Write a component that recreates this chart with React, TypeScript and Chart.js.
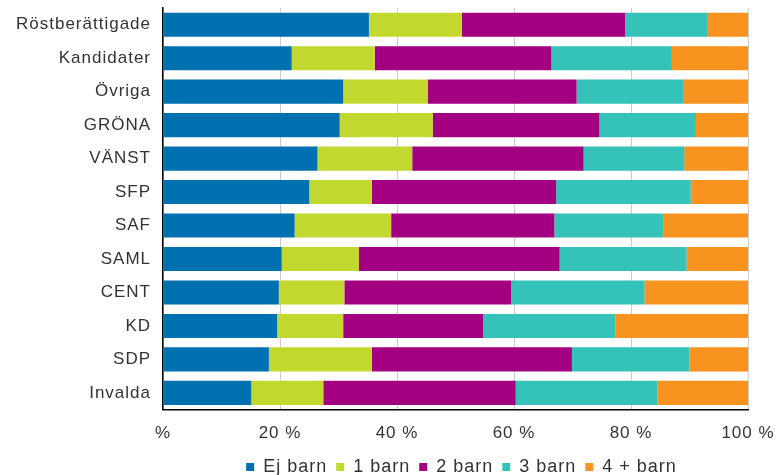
import React, { useEffect, useRef } from "react";
import { Chart, registerables } from "chart.js";

Chart.register(...registerables);

const categories = ["Röstberättigade", "Kandidater", "Övriga", "GRÖNA", "VÄNST", "SFP", "SAF", "SAML", "CENT", "KD", "SDP", "Invalda"];
const ejBarn = [35.2, 22.0, 30.8, 30.2, 26.4, 25.0, 22.5, 20.3, 19.8, 19.5, 18.1, 15.1];
const ettBarn = [15.9, 14.2, 14.5, 15.9, 16.2, 10.7, 16.5, 13.2, 11.2, 11.3, 17.6, 12.3];
const tvaBarn = [27.9, 30.2, 25.4, 28.5, 29.3, 31.5, 27.9, 34.3, 28.5, 23.9, 34.2, 32.9];
const treBarn = [14.0, 20.6, 18.2, 16.5, 17.2, 23.0, 18.7, 21.7, 22.8, 22.6, 20.1, 24.2];
const fyraBarn = [7.0, 13.0, 11.1, 8.9, 10.9, 9.8, 14.4, 10.5, 17.7, 22.7, 10.0, 15.5];
const seriesLabels = ["Ej barn", "1 barn", "2 barn", "3 barn", "4 + barn"];
const colors = ["#0071b0", "#c3d82e", "#a20080", "#35c2b9", "#f7931e"];
const xTicks = [0, 20, 40, 60, 80, 100];

const FONT = "'Liberation Sans', Arial, sans-serif";

const spacingPlugin = {
  id: "letterSpacing",
  beforeUpdate(chart: any) {
    chart.ctx.letterSpacing = "1px";
  },
  afterLayout(chart: any) {
    const lg = chart.legend;
    if (lg) {
      lg.left = chart.chartArea.left + 12;
      lg.right = chart.chartArea.right;
    }
  },
  beforeDraw(chart: any) {
    chart.ctx.letterSpacing = "1px";
  },
};

export default function App() {
  const ref = useRef<HTMLCanvasElement | null>(null);
  useEffect(() => {
    if (!ref.current) return;
    const data = [ejBarn, ettBarn, tvaBarn, treBarn, fyraBarn];
    const chart = new Chart(ref.current, {
      type: "bar",
      plugins: [spacingPlugin],
      data: {
        labels: categories,
        datasets: data.map((d, i) => ({
          label: seriesLabels[i],
          data: d,
          backgroundColor: colors[i],
          borderWidth: 0,
          barPercentage: 0.72,
          categoryPercentage: 1,
        })),
      },
      options: {
        indexAxis: "y",
        responsive: false,
        animation: false,
        layout: { padding: { left: 0, right: 30, top: 8, bottom: -11 } },
        plugins: {
          tooltip: { enabled: false },
          legend: {
            position: "bottom",
            labels: {
              boxWidth: 8,
              boxHeight: 8,
              padding: 9,
              color: "#333",
              font: { family: FONT, size: 18 },
            },
          },
        },
        scales: {
          x: {
            stacked: true,
            min: 0,
            max: 100,
            afterBuildTicks: (axis: any) => {
              axis.ticks = xTicks.map((v) => ({ value: v }));
            },
            afterFit: (axis: any) => {
              axis.paddingLeft = 0;
              axis.paddingRight = 0;
              axis.height = axis.height - 9;
            },
            ticks: {
              color: "#333",
              padding: 14,
              maxRotation: 0,
              font: { family: FONT, size: 17 },
              callback: (v: any) => (Number(v) === 0 ? "%" : v + " %"),
            },
            grid: { color: "#cccccc", drawTicks: false, lineWidth: 1 },
            border: { color: "#000", width: 1.5 },
          },
          y: {
            stacked: true,
            afterFit: (axis: any) => {
              axis.width = 163;
              axis.paddingTop = 0;
              axis.paddingBottom = 0;
            },
            ticks: {
              color: "#333",
              padding: 12,
              font: { family: FONT, size: 17 },
            },
            grid: { display: false, drawTicks: false },
            border: { color: "#000", width: 1.5 },
          },
        },
      },
    });
    return () => chart.destroy();
  }, []);
  return (
    <div style={{ position: "fixed", left: 0, top: 0, width: 778, height: 475, background: "#fff" }}>
      <canvas ref={ref} width={778} height={475} />
    </div>
  );
}
